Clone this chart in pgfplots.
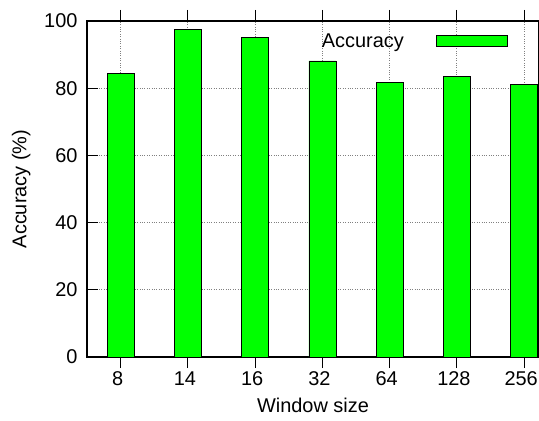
\documentclass[border=0pt]{standalone}
\usepackage{fontspec}
\setmainfont{Liberation Sans}
\usepackage{pgfplots}
\pgfplotsset{compat=1.18}
\definecolor{bargreen}{RGB}{0,255,0}
\begin{document}
\begin{tikzpicture}
\begin{axis}[
  scale only axis,
  width=452bp, height=336bp,
  at={(0,0)}, anchor=south west,
  xmin=-0.5, xmax=6.22,
  ymin=0, ymax=100,
  ytick={0,20,40,60,80,100},
  xtick={0,1,2,3,4,5,6},
  xticklabels={8,14,16,32,64,128,256},
  tick align=inside,
  major tick length=11bp,
  tick style={black, line width=1bp},
  axis line style={line width=1.2bp},
  grid=major,
  major grid style={dotted, gray, line width=1bp},
  /pgf/number format/assume math mode=true,
  tick label style={font=\fontsize{20}{24}\selectfont},
  label style={font=\fontsize{20}{24}\selectfont},
  xticklabel style={yshift=0bp, xshift=-3bp},
  yticklabel style={xshift=-6bp},
  xlabel={Window size},
  ylabel={Accuracy (\%)},
  ylabel style={yshift=7bp},
  xlabel style={yshift=-6bp},
  ybar, bar width=27bp,
  legend plot pos=right,
  legend style={at={(0.931,0.94)}, anchor=east, draw=none, fill=none,
    font=\fontsize{20}{24}\selectfont, inner sep=0pt, column sep=30bp},
  legend image code/.code={\draw[#1, line width=0.8bp] (0bp,-5.5bp) rectangle (71bp,5.5bp);},
]
\addplot[fill=bargreen, draw=black, line width=0.8bp] coordinates {
  (0,84.5) (1,97.4) (2,95.2) (3,88.1) (4,81.8) (5,83.5) (6,81.0)
};
\addlegendentry{Accuracy}
\end{axis}
\pgfresetboundingbox
\useasboundingbox (-87bp,-64bp) rectangle (452bp,357bp);
\end{tikzpicture}
\end{document}
